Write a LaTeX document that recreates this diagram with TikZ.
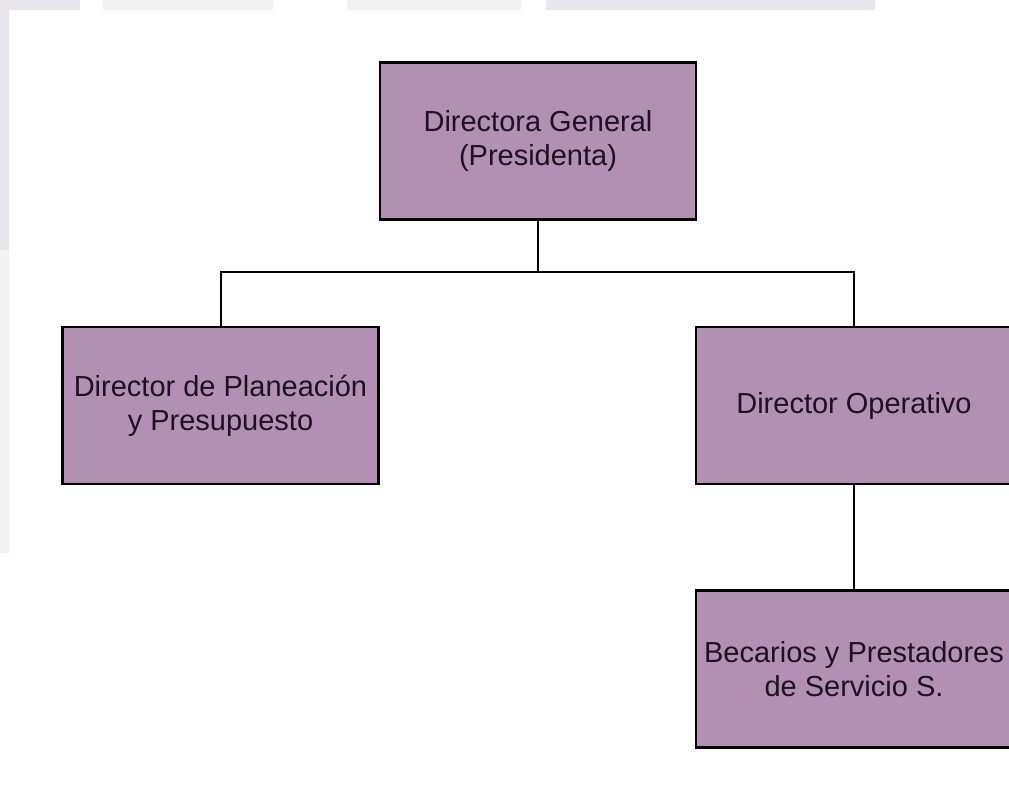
\documentclass[tikz,border=0pt]{standalone}
\usepackage{fontspec}
\setmainfont{Liberation Sans}
\definecolor{boxfill}{HTML}{B290B4}
\definecolor{txt}{HTML}{1C1220}
\definecolor{band}{HTML}{E8E6EC}
\definecolor{bandlight}{HTML}{F2F2F5}
\begin{document}
\begin{tikzpicture}[x=1pt,y=-1pt,
  orgbox/.style={draw=black, line width=2.8pt, fill=boxfill, text=txt,
    minimum width=316pt, minimum height=157pt, inner sep=0pt, align=center,
    font=\fontsize{29}{34}\selectfont},
  link/.style={draw=black, line width=2pt}]
\useasboundingbox (0,0) rectangle (1009,796);
\fill[white] (0,0) rectangle (1009,796);
% faint background bands
\fill[band] (0,0) rectangle (80,10);
\fill[bandlight] (103,0) rectangle (273,10);
\fill[bandlight] (347,0) rectangle (521,10);
\fill[band] (546,0) rectangle (875,10);
\fill[band] (0,0) rectangle (9,250);
\fill[bandlight] (0,250) rectangle (9,553);
% boxes
\node[orgbox] (dg) at (538,141) {Directora General\\(Presidenta)};
\node[orgbox] (dpp) at (220.5,405.5) {Director de Planeación\\y Presupuesto};
\node[orgbox] (dop) at (854,405.5) {Director Operativo};
\node[orgbox] (bec) at (854,669) {Becarios y Prestadores\\de Servicio S.};
% connectors
\coordinate (bus) at (538,272);
\draw[link] (dg.south) -- (bus);
\draw[link] (dpp.north) |- (bus) -| (dop.north);
\draw[link] (dop.south) -- (bec.north);
\end{tikzpicture}
\end{document}
